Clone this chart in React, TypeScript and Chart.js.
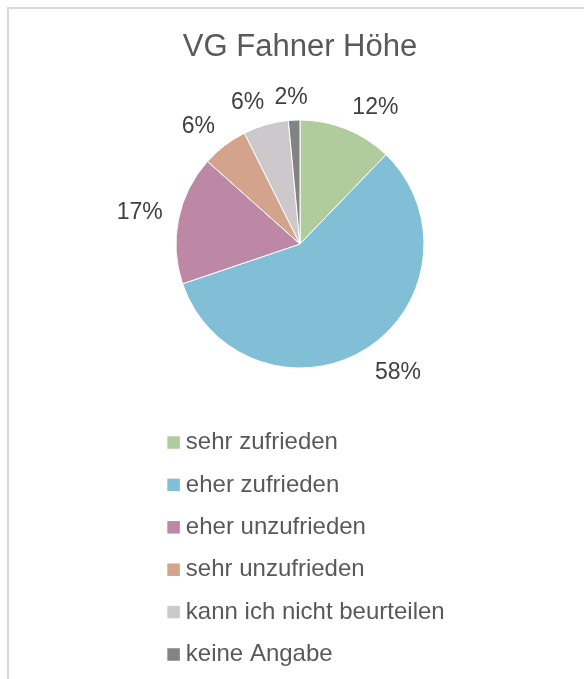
import React, { useEffect, useRef } from "react";
import { Chart, registerables } from "chart.js";

Chart.register(...registerables);

const TITLE = "VG Fahner Höhe";
const categories = [
  "sehr zufrieden",
  "eher zufrieden",
  "eher unzufrieden",
  "sehr unzufrieden",
  "kann ich nicht beurteilen",
  "keine Angabe",
];
const shares = [12.2, 57.6, 16.8, 6.0, 5.9, 1.5];
const colors = ["#B0CC9C", "#80BFD5", "#BC88A5", "#D4A38C", "#CDC8CB", "#838383"];

const FONT = "'Liberation Sans', Arial, sans-serif";

const clamp = (v: number) => Math.max(-1, Math.min(1, v));

const pctLabelsPlugin = {
  id: "pctLabels",
  afterDatasetsDraw(chart: any) {
    const ctx = chart.ctx;
    const meta = chart.getDatasetMeta(0);
    const data: number[] = chart.data.datasets[0].data;
    const total = data.reduce((a, b) => a + b, 0);
    const size = 23;
    const capH = size * 0.716;
    ctx.save();
    ctx.font = `${size}px ${FONT}`;
    ctx.fillStyle = "#404040";
    ctx.textAlign = "center";
    ctx.textBaseline = "alphabetic";
    meta.data.forEach((arc: any, i: number) => {
      const { x, y, startAngle, endAngle, outerRadius } = arc.getProps(
        ["x", "y", "startAngle", "endAngle", "outerRadius"],
        true
      );
      const mid = (startAngle + endAngle) / 2;
      const dx = Math.cos(mid);
      const dy = Math.sin(mid);
      const txt = Math.round((data[i] * 100) / total + 1e-9) + "%";
      const w = ctx.measureText(txt).width;
      const px = x + dx * (outerRadius + 16);
      const py = y + dy * (outerRadius + 16);
      const cx = px + (w / 2) * clamp(dx * 3);
      const cy = py + (capH / 2) * clamp(dy * 3);
      ctx.fillText(txt, cx, cy + capH / 2);
    });
    ctx.restore();
  },
};

const listLegendPlugin = {
  id: "listLegend",
  afterDraw(chart: any) {
    const ctx = chart.ctx;
    const meta = chart.getDatasetMeta(0);
    const arc = meta.data[0];
    if (!arc) return;
    const { x, y, outerRadius } = arc.getProps(["x", "y", "outerRadius"], true);
    const labels: string[] = chart.data.labels;
    const bg: string[] = chart.data.datasets[0].backgroundColor;
    ctx.save();
    ctx.font = `24px ${FONT}`;
    const box = 12.5;
    const gap = 6;
    const maxW = Math.max(...labels.map((l) => ctx.measureText(l).width));
    const left = x - (box + gap + maxW) / 2 + 6;
    const top = y + outerRadius + 74.5;
    const rowH = 42.4;
    labels.forEach((l, i) => {
      const cy = top + i * rowH;
      ctx.fillStyle = bg[i];
      ctx.fillRect(left, cy - box / 2, box, box);
      ctx.fillStyle = "#595959";
      ctx.textBaseline = "middle";
      ctx.textAlign = "left";
      ctx.fillText(l, left + box + gap, cy);
    });
    ctx.restore();
  },
};

export default function App() {
  const ref = useRef<HTMLCanvasElement>(null);

  useEffect(() => {
    if (!ref.current) return;
    const chart = new Chart(ref.current, {
      type: "pie",
      data: {
        labels: categories,
        datasets: [
          {
            data: shares,
            backgroundColor: colors,
            borderColor: "#ffffff",
            borderWidth: 1,
          },
        ],
      },
      options: {
        responsive: false,
        animation: false,
        layout: { padding: { top: 0, left: 101, right: 85, bottom: 310.5 } },
        plugins: {
          legend: { display: false },
          tooltip: { enabled: false },
          title: {
            display: true,
            text: TITLE,
            color: "#595959",
            font: { family: FONT, size: 31, weight: "normal" },
            padding: { top: 29, bottom: 53.3 },
          },
        },
      },
      plugins: [pctLabelsPlugin, listLegendPlugin],
    } as any);
    return () => chart.destroy();
  }, []);

  return (
    <div
      style={{
        position: "fixed",
        left: 0,
        top: 0,
        width: 584,
        height: 679,
        overflow: "hidden",
        background: "#ffffff",
      }}
    >
      <div
        style={{
          position: "absolute",
          left: 7,
          top: 7,
          width: 700,
          height: 800,
          borderLeft: "2px solid #d9d9d9",
          borderTop: "2px solid #d9d9d9",
        }}
      />
      <canvas
        ref={ref}
        width={584}
        height={679}
        style={{ position: "absolute", left: 0, top: 0, width: 584, height: 679 }}
      />
    </div>
  );
}
